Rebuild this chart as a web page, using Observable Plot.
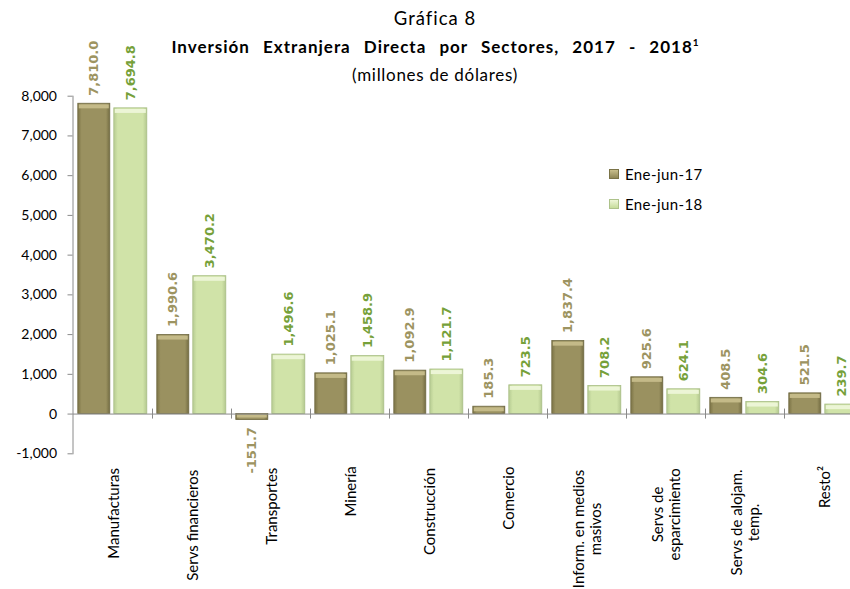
<!DOCTYPE html>
<html>
<head>
<meta charset="utf-8">
<script src="https://cdn.jsdelivr.net/npm/d3@7"></script>
<script src="https://cdn.jsdelivr.net/npm/@observablehq/plot@0.6"></script>
<style>
  html, body { margin: 0; padding: 0; background: #fff; overflow: hidden; }
  #wrap { position: relative; width: 850px; height: 589px; }
  .t { position: absolute; left: 0; width: 870px; text-align: center; font-family: Lato, sans-serif; color: #000; white-space: nowrap; }
  #t1 { top: 7px; font-size: 18.5px; letter-spacing: 1px; }
  #t2 { top: 36px; font-size: 17px; font-weight: bold; letter-spacing: 1px; word-spacing: 8px; }
  #t2 sup { font-size: 10px; vertical-align: 7px; line-height: 0; letter-spacing: 0; }
  #t3 { top: 64px; font-size: 17px; letter-spacing: 0.7px; }
  .leg { position: absolute; font-family: Lato, sans-serif; font-size: 15px; color: #000; display: flex; align-items: center; letter-spacing: 0.4px; }
  .sw { width: 10px; height: 10px; margin-right: 6px; box-sizing: border-box; }
</style>
</head>
<body>
<div id="wrap">
  <div class="t" id="t1">Gráfica 8</div>
  <div class="t" id="t2">Inversión Extranjera Directa por Sectores, 2017 - 2018<sup>1</sup></div>
  <div class="t" id="t3">(millones de dólares)</div>
  <div class="leg" style="left:609px; top:165px;"><div class="sw" style="background:linear-gradient(#c9bf8c,#8f8655); border:1px solid #7a7347"></div>Ene-jun-17</div>
  <div class="leg" style="left:609px; top:195px;"><div class="sw" style="background:linear-gradient(#eef6d8,#c6dc9a); border:1px solid #adc28a"></div>Ene-jun-18</div>
</div>
<script>
const categories = ["Manufacturas", "Servs financieros", "Transportes", "Minería", "Construcción", "Comercio", "Inform. en medios\nmasivos", "Servs de\nesparcimiento", "Servs de alojam.\ntemp.", "Resto²"];
const series = ["Ene-jun-17", "Ene-jun-18"];
const values17 = [7810.0, 1990.6, -151.7, 1025.1, 1092.9, 185.3, 1837.4, 925.6, 408.5, 521.5];
const values18 = [7694.8, 3470.2, 1496.6, 1458.9, 1121.7, 723.5, 708.2, 624.1, 304.6, 239.7];
const yTicks = [-1000, 0, 1000, 2000, 3000, 4000, 5000, 6000, 7000, 8000];

const rows17 = categories.map((c, i) => ({cat: c, series: series[0], value: values17[i]}));
const rows18 = categories.map((c, i) => ({cat: c, series: series[1], value: values18[i]}));
const locale = d3.formatLocale({decimal: ".", thousands: ",", grouping: [3], currency: ["$", ""], minus: "-"});
const fmt = locale.format(",.1f");
const fmtTick = locale.format(",");

const brownLabel = "#9d9461";
const greenLabel = "#76a13a";
const band = 79;

// measure category label lengths for top alignment
const ctx = document.createElement("canvas").getContext("2d");
const catSize = 15;
ctx.font = catSize + "px Lato";
const catSpacing = 0.7;
function lineLen(s) { return ctx.measureText(s).width + catSpacing * s.length; }

const catMarks = categories.map(c => {
  const w = Math.max(...c.split("\n").map(lineLen));
  return Plot.text([c], {
    x: d => d, frameAnchor: "bottom", text: d => d, rotate: -90,
    textAnchor: "middle", lineAnchor: "middle", lineHeight: 1.15,
    dy: 10 + w / 2, fontSize: catSize, fontFamily: "Lato", fill: "#000",
    ariaLabel: "catlabel"
  });
});

const labelStyle = {rotate: -90, lineAnchor: "middle", fontSize: 13, fontWeight: "bold", fontFamily: "DejaVu Sans"};

const chart = Plot.plot({
  width: 850,
  height: 589,
  marginLeft: 72.5,
  marginRight: 0,
  marginTop: 95.7,
  marginBottom: 135.7,
  style: {background: "transparent", overflow: "hidden"},
  x: {domain: categories, range: [72.5, 72.5 + band * categories.length], padding: 0, axis: null},
  y: {domain: [-1000, 8000], axis: null},
  marks: [
    Plot.axisY({ticks: yTicks, tickFormat: fmtTick, tickSize: 5, tickPadding: 11, label: null,
      stroke: "#8a8a8a", fill: "#000", fontSize: 14, fontFamily: "Lato"}),
    Plot.frame({anchor: "left", stroke: "#8a8a8a"}),
    // bars
    Plot.barY(rows17, {x: "cat", y: "value", insetLeft: 4.8, insetRight: 42.2,
      fill: "url(#gBrown)", stroke: "#6f6941", strokeWidth: 0.8}),
    Plot.barY(rows18, {x: "cat", y: "value", insetLeft: 40.8, insetRight: 5.2,
      fill: "url(#gGreen)", stroke: "#a9bf86", strokeWidth: 0.8}),
    // bevel highlights
    Plot.tickY(rows17.filter(d => d.value > 0), {x: "cat", y: "value", insetLeft: 5.8, insetRight: 43.2,
      stroke: "#c4ba88", strokeWidth: 4, dy: 2.6}),
    Plot.tickY(rows17.filter(d => d.value < 0), {x: "cat", y: 0, insetLeft: 5.8, insetRight: 43.2,
      stroke: "#c4ba88", strokeWidth: 3, dy: 2}),
    Plot.tickY(rows18, {x: "cat", y: "value", insetLeft: 41.8, insetRight: 6.2,
      stroke: "#ecf5d6", strokeWidth: 4, dy: 2.6}),
    // baseline + category separators
    Plot.ruleY([0], {stroke: "#8a8a8a"}),
    Plot.ruleX(categories.slice(1), {x: d => d, y1: 0, y2: 0, dx: -band / 2, insetTop: -5, insetBottom: -5, stroke: "#8a8a8a"}),
    // value labels
    Plot.text(rows17.filter(d => d.value >= 0), {x: "cat", y: "value", text: d => fmt(d.value),
      textAnchor: "start", dx: -18.7, dy: -8, fill: brownLabel, ...labelStyle}),
    Plot.text(rows17.filter(d => d.value < 0), {x: "cat", y: "value", text: d => fmt(d.value),
      textAnchor: "end", dx: -18.7, dy: 7, fill: brownLabel, ...labelStyle}),
    Plot.text(rows18, {x: "cat", y: "value", text: d => fmt(d.value),
      textAnchor: "start", dx: 17.8, dy: -8, fill: greenLabel, ...labelStyle}),
    ...catMarks
  ]
});

d3.select(chart).selectAll('g[aria-label="catlabel"] text, g[aria-label="catlabel"] tspan')
  .attr("letter-spacing", catSpacing)
  .style("letter-spacing", catSpacing + "px");

d3.select(chart).insert("defs", ":first-child").html(`
  <linearGradient id="gBrown" x1="0" x2="1" y1="0" y2="0">
    <stop offset="0" stop-color="#7c7446"/>
    <stop offset="0.12" stop-color="#9a9160"/>
    <stop offset="0.88" stop-color="#9a9160"/>
    <stop offset="1" stop-color="#736c42"/>
  </linearGradient>
  <linearGradient id="gGreen" x1="0" x2="1" y1="0" y2="0">
    <stop offset="0" stop-color="#b7cc92"/>
    <stop offset="0.12" stop-color="#d0e3a8"/>
    <stop offset="0.88" stop-color="#d0e3a8"/>
    <stop offset="1" stop-color="#b4c88f"/>
  </linearGradient>`);

chart.style.position = "absolute";
chart.style.left = "0";
chart.style.top = "0";
document.getElementById("wrap").prepend(chart);
</script>
</body>
</html>
